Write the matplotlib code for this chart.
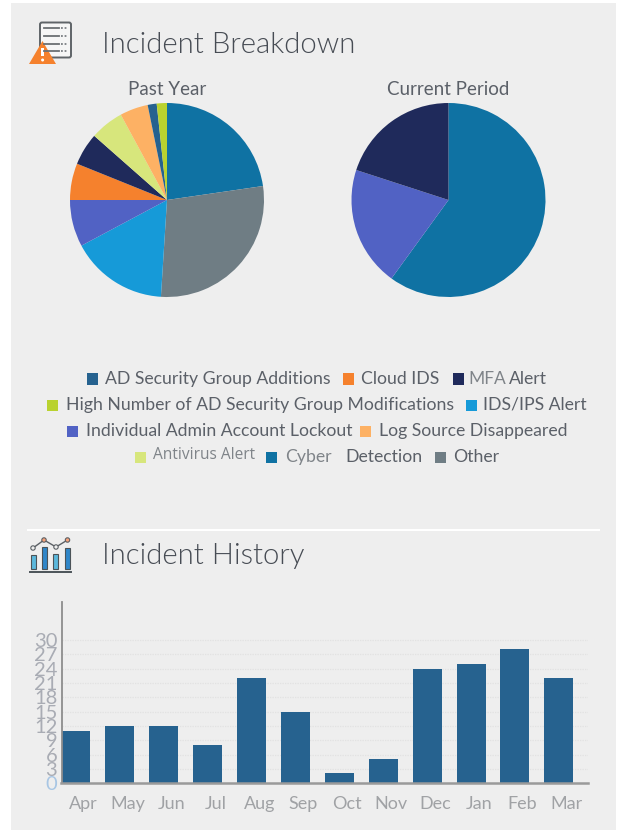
import matplotlib
matplotlib.use("Agg")
import matplotlib.pyplot as plt
from matplotlib.patches import Rectangle, Polygon, Circle, FancyBboxPatch

plt.rcParams['font.family'] = ['Lato', 'DejaVu Sans']

W, H = 619, 830
months = ['Apr', 'May', 'Jun', 'Jul', 'Aug', 'Sep', 'Oct', 'Nov', 'Dec', 'Jan', 'Feb', 'Mar']
incidents = [11, 12, 12, 8, 22, 15, 2.2, 5, 24, 25, 28, 22]
y_ticks = [0, 3, 6, 9, 12, 15, 18, 21, 24, 27, 30]

past_labels = ['Cyber Detection', 'Other', 'IDS/IPS Alert', 'Individual Admin Account Lockout',
               'Cloud IDS', 'MFA Alert', 'Antivirus Alert', 'Log Source Disappeared',
               'AD Security Group Additions', 'High Number of AD Security Group Modifications']
past_values = [22.7, 28.3, 16.2, 7.8, 6.1, 5.4, 5.6, 4.7, 1.5, 1.7]
current_labels = ['Cyber Detection', 'Individual Admin Account Lockout', 'MFA Alert']
current_values = [60, 20, 20]

colors = {
    'AD Security Group Additions': '#26628f',
    'Cloud IDS': '#f5812d',
    'MFA Alert': '#1f2a5b',
    'High Number of AD Security Group Modifications': '#b9d22f',
    'IDS/IPS Alert': '#169ad8',
    'Individual Admin Account Lockout': '#5162c4',
    'Log Source Disappeared': '#fdb164',
    'Antivirus Alert': '#d7e67c',
    'Cyber Detection': '#0f72a3',
    'Other': '#6f7d84',
}
TXT = '#5b6068'
FS = 12.72


def px_axes(x0, y0, x1, y1, **kw):
    return fig.add_axes([x0 / W, 1 - y1 / H, (x1 - x0) / W, (y1 - y0) / H], **kw)


fig = plt.figure(figsize=(W / 100, H / 100), dpi=100, facecolor='white')
bg = px_axes(0, 0, W, H)
bg.set_xlim(0, W)
bg.set_ylim(H, 0)
bg.axis('off')
bg.add_patch(Rectangle((11, 3), 605, 827, fc='#eeeeee', ec='none'))
bg.add_patch(Rectangle((27, 529), 573, 2.2, fc='white', ec='none'))

bg.text(102.5, 45, 'Incident Breakdown', fontsize=21.2, color='#474c54', weight=300, va='center')
bg.text(102.5, 556, 'Incident History', fontsize=21.2, color='#474c54', weight=300, va='center')
bg.text(167, 89.5, 'Past Year', fontsize=13.5, color=TXT, ha='center', va='center')
bg.text(448, 89.5, 'Current Period', fontsize=13.5, color=TXT, ha='center', va='center')

# Breakdown icon
bg.add_patch(FancyBboxPatch((40, 22.5), 31, 35, boxstyle='round,pad=0,rounding_size=2',
                            fc='#f6f6f6', ec='#5f6468', lw=1.4))
for yy in (28.3, 36, 44, 51):
    bg.plot([44, 59], [yy, yy], color='#6b6f73', lw=1.3)
    bg.plot([61, 68], [yy, yy], color='#7b7f83', lw=1.3, ls=(0, (1, 1)))
bg.add_patch(Polygon([[29, 64], [42.5, 41], [56, 64]], fc='#f5812d', ec='none'))
bg.add_patch(Rectangle((41.3, 48), 2.6, 8.5, fc='white', ec='none'))
bg.add_patch(Circle((42.6, 60), 1.5, fc='white', ec='none'))

# History icon
bg.plot([30, 70.5], [571.7, 571.7], color='#4b5358', lw=1.4)
for xx, top, col in ((33, 555, '#5bb8dc'), (44, 547, '#2f86c9'), (55.7, 554, '#5bb8dc'), (67, 548, '#2f86c9')):
    bg.add_patch(Rectangle((xx - 2.5, top), 5, 569 - top, fc=col, ec='#4b5358', lw=0.8))
bg.plot([33, 44, 56, 67.5], [548, 540, 547, 540], color='#5b6065', lw=1)
for xx, yy, col in ((33, 548, '#eeeeee'), (44, 540, '#f7a27a'), (56, 547, '#eeeeee'), (67.5, 540, '#f7a27a')):
    bg.add_patch(Circle((xx, yy), 2.2, fc=col, ec='#5b6065', lw=0.8, zorder=3))

# Legend
legend_rows = [
    (378.5, [(87, 105, 'AD Security Group Additions'), (342.5, 361, 'Cloud IDS'), (452.5, 468.5, 'MFA Alert')]),
    (404.5, [(47, 65.5, 'High Number of AD Security Group Modifications'), (465.5, 483, 'IDS/IPS Alert')]),
    (430.5, [(67, 86, 'Individual Admin Account Lockout'), (360, 379, 'Log Source Disappeared')]),
    (456.5, [(134.5, 153, 'Antivirus Alert'), (265.5, 285, 'Cyber Detection'), (434.5, 453, 'Other')]),
]
for y, entries in legend_rows:
    for sx, tx, name in entries:
        bg.add_patch(Rectangle((sx, y - 5), 11.4, 11.4, fc=colors[name], ec='none'))
        if name == 'MFA Alert':
            bg.text(tx, y, 'MFA', fontsize=12.5, color='#7f8489', va='center')
            bg.text(508.5, y, 'Alert', fontsize=FS, color=TXT, va='center')
        elif name == 'Antivirus Alert':
            bg.text(tx, y - 1.5, name, fontsize=11.2, color='#7f8489', va='center', family='Open Sans')
        elif name == 'Cyber Detection':
            bg.text(tx, y + 0.5, 'Cyber', fontsize=FS, color='#7f8489', va='center')
            bg.text(345, y, 'Detection', fontsize=FS, color=TXT, va='center')
        else:
            bg.text(tx, y, name, fontsize=FS, color=TXT, va='center')

# Pies
for cx, labels, values in ((167, past_labels, past_values), (448.5, current_labels, current_values)):
    a = px_axes(cx - 97, 103, cx + 97, 297)
    a.pie(values, colors=[colors[n] for n in labels], startangle=90, counterclock=False,
          radius=1, wedgeprops={'linewidth': 0})
    a.set_xlim(-1, 1)
    a.set_ylim(-1, 1)

# Bars
ax = px_axes(61.5, 602, 588, 783.3)
ax.patch.set_alpha(0)
ax.bar(range(len(months)), incidents, width=0.66, color='#26628f', zorder=2)
ax.set_xlim(-0.33, 11.665)
ax.set_ylim(0, 181.3 / 4.78)
ax.set_yticks(y_ticks)
ax.set_xticks([i + 0.175 for i in range(len(months))])
ax.set_xticklabels(months, fontsize=13, color='#a0a2a5')
ax.tick_params(axis='x', length=0, pad=9)
ax.tick_params(axis='y', length=0, pad=3, labelsize=14.5, labelcolor='#a9acb4')
ax.get_yticklabels()[0].set_color('#a8c6e4')
ax.grid(axis='y', color='#e2e2e2', lw=0.9, ls=(0, (1, 1)), zorder=0)
ax.grid(axis='x', visible=False)
for s in ('top', 'right'):
    ax.spines[s].set_visible(False)
ax.spines['left'].set_color('#8d8d8d')
ax.spines['left'].set_linewidth(1.3)
ax.spines['bottom'].set_color('#9a9a9a')
ax.spines['bottom'].set_linewidth(1.8)

fig.savefig('out.png', dpi=100, facecolor='white')
